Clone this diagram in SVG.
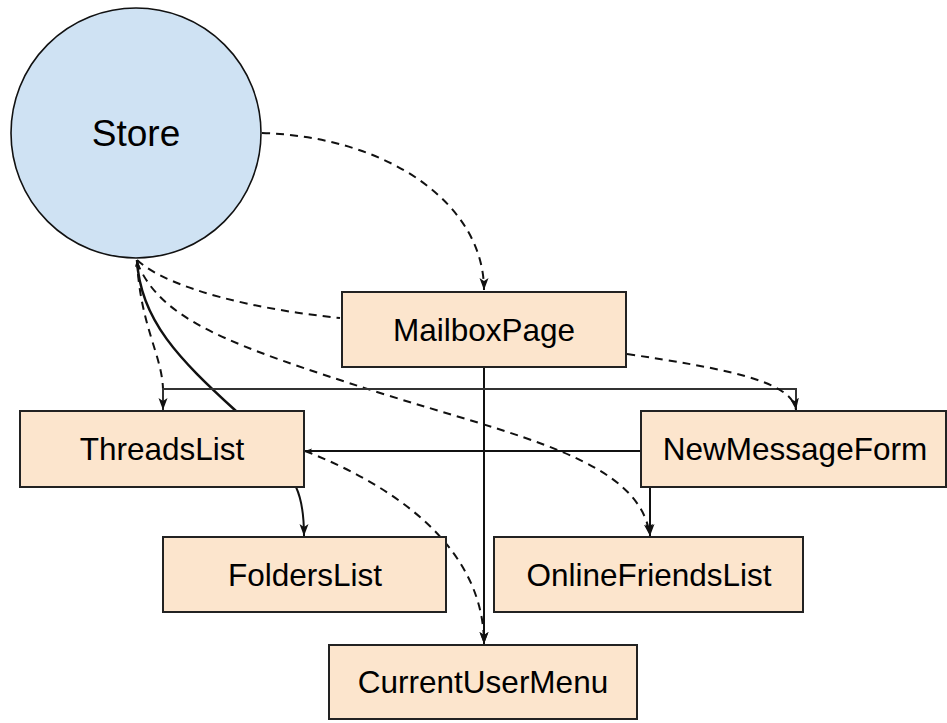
<svg xmlns="http://www.w3.org/2000/svg" width="947" height="723" viewBox="0 0 947 723">
  <style>
    .box { fill: #fce5cd; stroke: #222; stroke-width: 2; }
    .store { fill: #cfe2f3; stroke: #111; stroke-width: 1.6; }
    .label { font-family: "Liberation Sans", Arial, sans-serif; font-size: 31.5px; fill: #000; text-anchor: middle; }
    .edge { fill: none; stroke: #111; stroke-width: 2; }
    .dash { stroke-dasharray: 8 6; }
    .thin { stroke: #333; }
    .bold { stroke-width: 2.5; }
  </style>
  <defs>
    <marker id="arrow" markerUnits="userSpaceOnUse" markerWidth="14" markerHeight="10" refX="12" refY="4.5" orient="auto">
      <path d="M0,0 L12,4.5 L0,9 L3,4.5 Z" fill="#111"/>
    </marker>
    <marker id="arrow-small" markerUnits="userSpaceOnUse" markerWidth="8" markerHeight="6" refX="7" refY="2.5" orient="auto">
      <path d="M0,0 L7,2.5 L0,5 L1.5,2.5 Z" fill="#111"/>
    </marker>
  </defs>

  <g id="connectors">
    <!-- Store to MailboxPage -->
    <path class="edge dash" d="M262,133 C390,137 484,205 484,290" marker-end="url(#arrow)"/>
    <!-- Store to MailboxPage (left side) -->
    <path class="edge dash" d="M137,260 C170,290 260,310 340,318"/>
    <!-- Store to ThreadsList -->
    <path class="edge dash" d="M137,260 C140,325 162,355 163,389"/>
    <!-- ThreadsList back to Store -->
    <path class="edge bold" d="M236,411 C180,360 140,320 137,260" marker-end="url(#arrow-small)"/>
    <!-- Store to OnlineFriendsList -->
    <path class="edge dash" d="M137,262 C160,320 230,345 377,392 C520,437 640,460 650,536" marker-end="url(#arrow)"/>
    <!-- MailboxPage to CurrentUserMenu -->
    <path class="edge" d="M484,367 L484,644" marker-end="url(#arrow)"/>
    <!-- NewMessageForm to ThreadsList (over the top) -->
    <path class="edge thin" d="M796,411 L796,389 L163,389 L163,410" marker-end="url(#arrow)"/>
    <!-- MailboxPage to NewMessageForm -->
    <path class="edge dash" d="M627,354 C720,368 792,380 796,410" marker-end="url(#arrow)"/>
    <!-- NewMessageForm to ThreadsList (side) -->
    <path class="edge" d="M641,451 L305,451" marker-end="url(#arrow-small)"/>
    <!-- ThreadsList to CurrentUserMenu -->
    <path class="edge dash" d="M305,451 C380,480 484,540 484,644" marker-end="url(#arrow)"/>
    <!-- ThreadsList to FoldersList -->
    <path class="edge" d="M296,487 C302,500 304,515 304,536" marker-end="url(#arrow)"/>
    <!-- NewMessageForm to OnlineFriendsList -->
    <path class="edge" d="M650,487 L650,536" marker-end="url(#arrow)"/>
  </g>

  <g id="store">
    <circle class="store" cx="136" cy="133" r="125"/>
    <text class="label" x="136" y="146" style="font-size:37px">Store</text>
  </g>
  <g id="mailbox-page">
    <rect class="box" x="342" y="292" width="284" height="75"/>
    <text class="label" x="484" y="341">MailboxPage</text>
  </g>
  <g id="threads-list">
    <rect class="box" x="20" y="411" width="284" height="76"/>
    <text class="label" x="162" y="460">ThreadsList</text>
  </g>
  <g id="new-message-form">
    <rect class="box" x="641" y="411" width="305" height="76"/>
    <text class="label" x="795" y="460">NewMessageForm</text>
  </g>
  <g id="folders-list">
    <rect class="box" x="163" y="537" width="283" height="75"/>
    <text class="label" x="305" y="586">FoldersList</text>
  </g>
  <g id="online-friends-list">
    <rect class="box" x="494" y="537" width="309" height="75"/>
    <text class="label" x="649" y="586">OnlineFriendsList</text>
  </g>
  <g id="current-user-menu">
    <rect class="box" x="329" y="645" width="308" height="74"/>
    <text class="label" x="483" y="693">CurrentUserMenu</text>
  </g>
</svg>
